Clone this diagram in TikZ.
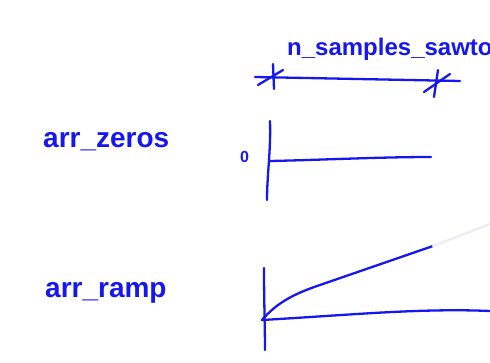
\documentclass[tikz,border=0pt]{standalone}
\usepackage{fontspec}
\setmainfont{Liberation Sans}
\definecolor{ink}{RGB}{22,22,238}
\definecolor{faint}{RGB}{236,236,248}
\tikzset{
  pen/.style={draw=ink, line width=2.3pt, line cap=round, line join=round},
  hand/.style={text=ink, inner sep=0pt, anchor=base west},
}
\begin{document}
\begin{tikzpicture}[x=1pt,y=-1pt]
\useasboundingbox (0,0) rectangle (490,363);
\clip (0,0) rectangle (490,363);
% labels
\node[hand, font=\bfseries\fontsize{24}{24}\selectfont] (toplabel) at (287,56) {n\_samples\_sawtooth};
\node[hand, font=\bfseries\fontsize{28}{28}\selectfont] (zeroslabel) at (43,148) {arr\_zeros};
\node[hand, font=\bfseries\fontsize{28}{28}\selectfont] (ramplabel) at (45,298) {arr\_ramp};
\node[hand, font=\bfseries\fontsize{16}{16}\selectfont] (zero) at (240,163) {0};
% dimension line
\coordinate (d1) at (255,77);
\coordinate (d2) at (460,81);
\draw[pen] (d1) -- (d2);
\coordinate (t1a) at (273,64); \coordinate (t1b) at (274,89);
\coordinate (t1c) at (258,85); \coordinate (t1d) at (283,70);
\draw[pen] (t1a) -- (t1b);
\draw[pen] (t1c) -- (t1d);
\coordinate (t2a) at (438,70); \coordinate (t2b) at (434,97);
\coordinate (t2c) at (424,92); \coordinate (t2d) at (450,74);
\draw[pen] (t2a) -- (t2b);
\draw[pen] (t2c) -- (t2d);
% arr_zeros axes
\coordinate (v1top) at (270,121);
\coordinate (v1bot) at (267,200);
\coordinate (o1) at (270,161);
\coordinate (h1end) at (431,157);
\draw[pen] (v1top) .. controls (271,150) and (267,175) .. (v1bot);
\draw[pen] (o1) .. controls (320,160) and (380,157) .. (h1end);
% arr_ramp axes
\coordinate (v2top) at (264,268);
\coordinate (v2bot) at (265,350);
\coordinate (o2) at (262,320);
\coordinate (h2end) at (490,311);
\coordinate (r2end) at (433,246);
\coordinate (r2faint) at (490,224);
\draw[pen] (v2top) .. controls (264,300) and (265,330) .. (v2bot);
\draw[pen] (o2) .. controls (350,315) and (420,308) .. (h2end);
\draw[pen] (o2) .. controls (275,305) and (290,295) .. (320,285) -- (r2end);
\draw[draw=faint, line width=2.3pt, line cap=round] (r2end) -- (r2faint);
\end{tikzpicture}
\end{document}
